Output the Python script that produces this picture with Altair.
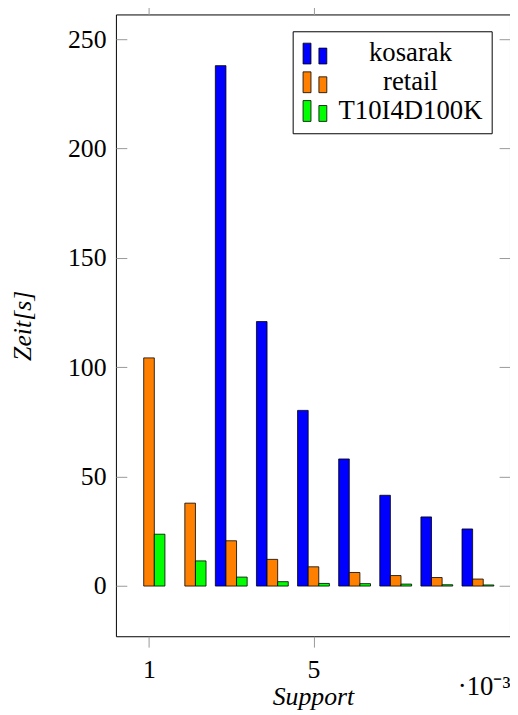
import altair as alt
import pandas as pd

# ---- data ----
support = [1, 2, 3, 4, 5, 6, 7, 8, 9]
series_names = ["kosarak", "retail", "T10I4D100K"]
kosarak = [None, None, 237.9, 120.9, 80.3, 58.1, 41.5, 31.6, 26.1]
retail = [104.3, 37.9, 20.7, 12.2, 8.8, 6.2, 4.8, 3.9, 3.2]
t10i4d100k = [23.7, 11.5, 4.1, 2.0, 1.2, 1.1, 0.9, 0.6, 0.5]
colors = ["#0000ff", "#ff8000", "#00ff00"]
y_ticks = [0, 50, 100, 150, 200, 250]
x_ticks = [1, 5]

bar_w = 0.258

rows = []
for i, (name, vals) in enumerate(zip(series_names, [kosarak, retail, t10i4d100k])):
    for s, v in zip(support, vals):
        if v is not None:
            rows.append({"support": s, "series": name, "idx": i, "zeit": v})
df = pd.DataFrame(rows)

FONT = "Liberation Serif"
W, H = 398, 628

x_scale = alt.Scale(domain=[0.195, 9.78], nice=False, zero=False)
y_scale = alt.Scale(domain=[-22.95, 261.3], nice=False, zero=False)

legend_symbol = "M-1,-0.875H-0.333V0.875H-1Z M0.333,-0.458H1V0.875H0.333Z"

base = alt.Chart(df).transform_calculate(
    x0=f"datum.support + (datum.idx - 1.5) * {bar_w}",
    x1=f"datum.support + (datum.idx - 0.5) * {bar_w}",
)

bars = base.mark_rect(stroke="black", strokeWidth=0.8).encode(
    x=alt.X(
        "x0:Q",
        scale=x_scale,
        axis=alt.Axis(
            orient="bottom", values=x_ticks, title="Support", tickSize=11,
            labelPadding=10, titlePadding=1, titleFontStyle="italic",
            format="d",
        ),
    ),
    x2="x1:Q",
    y=alt.Y(
        "zeit:Q",
        scale=y_scale,
        axis=alt.Axis(
            orient="left", values=y_ticks, title="Zeit[s]", offset=-11,
            tickSize=11, labelPadding=10, titlePadding=32,
            titleFontStyle="italic",
        ),
    ),
    y2=alt.datum(0),
    color=alt.Color(
        "series:N",
        scale=alt.Scale(domain=series_names, range=colors),
        legend=alt.Legend(
            title=None, orient="none", legendX=178.5, legendY=17,
            symbolType=legend_symbol, symbolSize=576,
            symbolStrokeColor="black", symbolStrokeWidth=0.8,
            symbolOpacity=1,
            labelFont=FONT, labelFontSize=27, labelAlign="center",
            labelOffset=83, labelLimit=0,
            padding=9, strokeColor="black", fillColor="white",
            rowPadding=1, cornerRadius=0,
        ),
    ),
)

ghost = base.mark_point(opacity=0).encode(
    x=alt.X(
        "x0:Q", scale=x_scale,
        axis=alt.Axis(orient="top", values=x_ticks, labels=False, title=None,
                      tickSize=11),
    ),
    y=alt.Y(
        "zeit:Q", scale=y_scale,
        axis=alt.Axis(orient="right", values=y_ticks, labels=False, title=None,
                      offset=-11, tickSize=11),
    ),
)

chart = (
    alt.layer(bars, ghost)
    .resolve_axis(x="independent", y="independent")
    .properties(
        width=W,
        height=H,
        padding={"left": 109, "top": 3, "right": 0, "bottom": 74},
        autosize=alt.AutoSizeParams(type="none"),
        title=alt.Title("·10⁻³", orient="bottom", anchor="end", offset=-36,
                        font=FONT, fontSize=27, fontWeight="normal"),
        background="white",
    )
    .configure_view(stroke="black", strokeWidth=1)
    .configure_axis(
        domain=False, grid=False, tickColor="#999999", tickWidth=1,
        labelFont=FONT, labelFontSize=26, labelColor="black",
        titleFont=FONT, titleFontSize=26, titleFontWeight="normal",
        titleColor="black",
    )
)

chart.save("out.html", embed_options={"renderer": "svg", "actions": False})
